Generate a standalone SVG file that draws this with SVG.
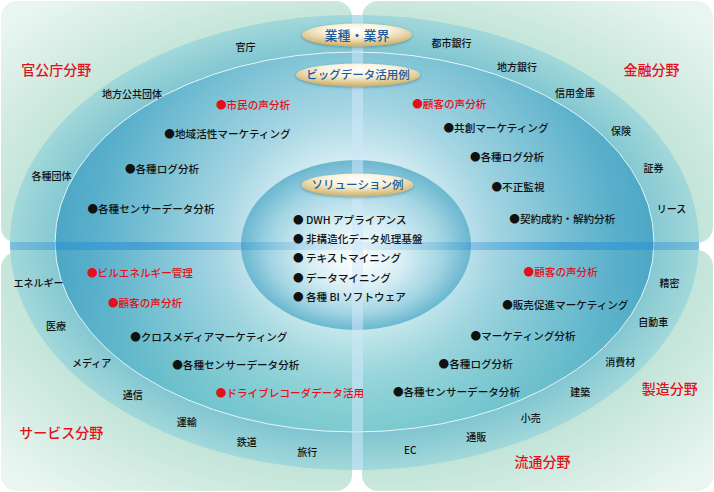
<svg xmlns="http://www.w3.org/2000/svg" width="714" height="492" viewBox="0 0 714 492">
<style>
text{font-family:"Noto Sans CJK JP","Noto Sans",sans-serif;text-anchor:middle;font-weight:500}
.ind{font-size:10px;fill:#111}
.item{font-size:10.6px;fill:#111}
.sol{font-size:10.6px;fill:#111;text-anchor:start}
.red{fill:#e3101b}
.cat{font-size:14px;fill:#e3101b}
.pt{font-size:11.5px;fill:#1d5c9c}
.pill{fill:url(#pillG);filter:url(#sh)}
.panel{fill:url(#panelG)}
</style>
<defs>
<radialGradient id="panelG" gradientUnits="userSpaceOnUse" cx="357" cy="246" r="480" gradientTransform="translate(357 246) scale(1 0.66) translate(-357 -246)">
<stop offset="0.68" stop-color="#bfe3d6"/>
<stop offset="1" stop-color="#e8f5f0"/>
</radialGradient>
<radialGradient id="outerG" cx="0.5" cy="0.5" r="0.5">
<stop offset="0.8" stop-color="#78c1cf"/>
<stop offset="1" stop-color="#a2d8da"/>
</radialGradient>
<radialGradient id="midG" gradientUnits="userSpaceOnUse" cx="355" cy="245" r="300">
<stop offset="0" stop-color="#ffffff"/>
<stop offset="0.3" stop-color="#cfeaf0"/>
<stop offset="0.45" stop-color="#a6d6e3"/>
<stop offset="0.65" stop-color="#80c4d6"/>
<stop offset="0.85" stop-color="#5cb1cc"/>
<stop offset="1" stop-color="#4ba7c6"/>
</radialGradient>
<linearGradient id="midTint" x1="0" y1="0" x2="0" y2="1">
<stop offset="0.6" stop-color="#6fd0c4" stop-opacity="0"/>
<stop offset="1" stop-color="#6fd0c4" stop-opacity="0.45"/>
</linearGradient>
<radialGradient id="innerG" cx="0.5" cy="0.5" r="0.5" fx="0.5" fy="0.6">
<stop offset="0" stop-color="#ffffff"/>
<stop offset="0.4" stop-color="#d8eff4"/>
<stop offset="0.75" stop-color="#a3d5e3"/>
<stop offset="1" stop-color="#6ab7d0"/>
</radialGradient>
<linearGradient id="hBand" x1="0" y1="0" x2="1" y2="0">
<stop offset="0" stop-color="#1a86d6" stop-opacity="0.3"/>
<stop offset="0.2" stop-color="#1a86d6" stop-opacity="0.5"/>
<stop offset="0.38" stop-color="#1a86d6" stop-opacity="0.22"/>
<stop offset="0.5" stop-color="#1a86d6" stop-opacity="0.08"/>
<stop offset="0.62" stop-color="#1a86d6" stop-opacity="0.22"/>
<stop offset="0.8" stop-color="#1a86d6" stop-opacity="0.5"/>
<stop offset="1" stop-color="#1a86d6" stop-opacity="0.3"/>
</linearGradient>
<radialGradient id="pillG" cx="0.5" cy="0.28" r="0.68">
<stop offset="0" stop-color="#ffffff"/>
<stop offset="0.45" stop-color="#f8f1da"/>
<stop offset="1" stop-color="#d2b56c"/>
</radialGradient>
<clipPath id="outerClip"><ellipse cx="354.5" cy="242.5" rx="344.5" ry="227.5"/></clipPath>
<filter id="sh" x="-20%" y="-50%" width="140%" height="200%">
<feGaussianBlur in="SourceAlpha" stdDeviation="1.6"/>
<feOffset dy="1" result="b"/>
<feFlood flood-color="#2f7390" flood-opacity="0.6"/>
<feComposite in2="b" operator="in"/>
<feMerge><feMergeNode/><feMergeNode in="SourceGraphic"/></feMerge>
</filter>
</defs>
<rect width="714" height="492" fill="#ffffff"/>
<g id="panels">
<rect class="panel" x="1" y="1" width="351" height="242" rx="16"/>
<rect class="panel" x="362" y="1" width="351" height="242" rx="16"/>
<rect class="panel" x="1" y="252" width="351" height="239" rx="16"/>
<rect class="panel" x="362" y="250" width="351" height="241" rx="16"/>
</g>
<g id="rings">
<ellipse id="ring-industry" cx="354.5" cy="242.5" rx="344.5" ry="227.5" fill="url(#outerG)"/>
<ellipse id="ring-bigdata" cx="354.5" cy="242" rx="299.5" ry="190" fill="url(#midG)"/>
<ellipse cx="354.5" cy="242" rx="299.5" ry="190" fill="url(#midTint)" stroke="#e6f5f8" stroke-width="1"/>
<ellipse id="ring-solution" cx="356" cy="245" rx="115" ry="85" fill="url(#innerG)"/>
<g clip-path="url(#outerClip)">
<rect x="10" y="242" width="690" height="8" fill="url(#hBand)"/>
<rect x="352" y="14" width="11" height="458" fill="#cde8fa" opacity="0.55"/>
</g>
</g>
<g id="connectors"/>
<g id="pill-industry">
<ellipse class="pill" cx="357" cy="35" rx="55" ry="11.5"/>
<text class="pt" x="357" y="40" style="font-size:13px">業種・業界</text>
</g>
<g id="pill-bigdata">
<ellipse class="pill" cx="358" cy="75" rx="62" ry="11.5"/>
<text class="pt" x="358" y="79.4">ビッグデータ活用例</text>
</g>
<g id="node-solution">
<ellipse class="pill" cx="357.5" cy="185" rx="56" ry="11.5"/>
<text class="pt" x="357.5" y="189.4">ソリューション例</text>
<text class="sol" x="293" y="224">● DWH アプライアンス</text>
<text class="sol" x="293" y="243.3">● 非構造化データ処理基盤</text>
<text class="sol" x="293" y="262.3">● テキストマイニング</text>
<text class="sol" x="293" y="281.7">● データマイニング</text>
<text class="sol" x="293" y="300.7">● 各種 BI ソフトウェア</text>
</g>
<g id="node-government">
<text class="cat" x="56.2" y="75.3">官公庁分野</text>
<text class="ind" x="245.5" y="50.5">官庁</text>
<text class="ind" x="132" y="97.8">地方公共団体</text>
<text class="ind" x="51.5" y="179.5">各種団体</text>
<text class="item red" x="253" y="109">●市民の声分析</text>
<text class="item" x="227.5" y="138">●地域活性マーケティング</text>
<text class="item" x="162" y="173">●各種ログ分析</text>
<text class="item" x="151" y="213">●各種センサーデータ分析</text>
</g>
<g id="node-finance">
<text class="cat" x="651.5" y="75.3">金融分野</text>
<text class="ind" x="451.5" y="47.1">都市銀行</text>
<text class="ind" x="517" y="70.5">地方銀行</text>
<text class="ind" x="575" y="97.1">信用金庫</text>
<text class="ind" x="621" y="134.5">保険</text>
<text class="ind" x="653.5" y="172.1">証券</text>
<text class="ind" x="671.5" y="213.1">リース</text>
<text class="item red" x="449.3" y="108">●顧客の声分析</text>
<text class="item" x="496" y="132.3">●共創マーケティング</text>
<text class="item" x="507" y="160.7">●各種ログ分析</text>
<text class="item" x="518" y="191.3">●不正監視</text>
<text class="item" x="562.3" y="223">●契約成約・解約分析</text>
</g>
<g id="node-service">
<text class="cat" x="61.3" y="438">サービス分野</text>
<text class="ind" x="38.5" y="286.5">エネルギー</text>
<text class="ind" x="56" y="329.8">医療</text>
<text class="ind" x="91.7" y="367.1">メディア</text>
<text class="ind" x="132.7" y="398.8">通信</text>
<text class="ind" x="186.7" y="425.5">運輸</text>
<text class="ind" x="246.7" y="445.5">鉄道</text>
<text class="ind" x="307.3" y="456.1">旅行</text>
<text class="item red" x="140" y="277.3">●ビルエネルギー管理</text>
<text class="item red" x="145" y="306.7">●顧客の声分析</text>
<text class="item" x="208.8" y="341.3">●クロスメディアマーケティング</text>
<text class="item" x="235.8" y="369">●各種センサーデータ分析</text>
<text class="item red" x="290" y="397.3">●ドライブレコーダデータ活用</text>
</g>
<g id="node-manufacturing">
<text class="cat" x="669.8" y="393.6">製造分野</text>
<text class="ind" x="669.5" y="286.5">精密</text>
<text class="ind" x="653.2" y="325.5">自動車</text>
<text class="ind" x="620.3" y="365.5">消費材</text>
<text class="ind" x="580.3" y="395.5">建築</text>
<text class="item red" x="560.7" y="276.3">●顧客の声分析</text>
<text class="item" x="565.3" y="309">●販売促進マーケティング</text>
<text class="item" x="523" y="340">●マーケティング分析</text>
<text class="item" x="475.7" y="368.3">●各種ログ分析</text>
<text class="item" x="456.5" y="395.7">●各種センサーデータ分析</text>
</g>
<g id="node-distribution">
<text class="cat" x="542.5" y="467">流通分野</text>
<text class="ind" x="530.7" y="422.1">小売</text>
<text class="ind" x="476.3" y="440.5">通販</text>
<text class="ind" x="410.2" y="453.8">EC</text>
</g>
</svg>
